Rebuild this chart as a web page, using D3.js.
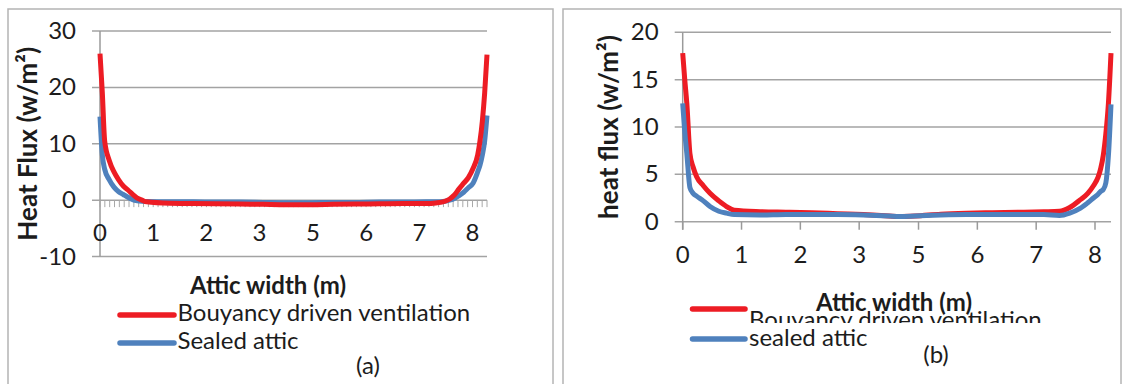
<!DOCTYPE html>
<html>
<head>
<meta charset="utf-8">
<script src="https://cdn.jsdelivr.net/npm/d3@7"></script>
<style>
  body { margin: 0; background: #fff; }
  svg text { font-family: Lato, "Open Sans", sans-serif; fill: #1c1c1c; }
</style>
</head>
<body>
<script>
// attic width (m) at sampled points, panel (a)
let xA = [0, 0.05, 0.1, 0.2, 0.3, 0.4, 0.5, 0.6, 0.7, 0.8, 0.9, 1.0, 1.5, 2, 2.5, 3, 3.5, 4, 4.5, 5, 5.5, 6, 6.5, 7, 7.2, 7.4, 7.5, 7.6, 7.7, 7.8, 7.9, 8.0, 8.1, 8.15, 8.2, 8.25, 8.3];
let ventA = [26, 19, 10.5, 7, 5, 3.6, 2.5, 1.8, 1.0, 0.35, 0.0, -0.3, -0.55, -0.6, -0.65, -0.7, -0.75, -0.8, -0.8, -0.75, -0.7, -0.65, -0.6, -0.6, -0.5, -0.2, 0.2, 0.9, 2.0, 3.0, 4.0, 5.6, 8.0, 10.5, 14, 19, 25.8];
let sealedA = [14.8, 8, 5.5, 3.6, 2.3, 1.5, 1.0, 0.5, 0.1, -0.1, -0.2, -0.25, -0.3, -0.3, -0.35, -0.35, -0.4, -0.45, -0.45, -0.4, -0.4, -0.35, -0.35, -0.3, -0.3, -0.2, 0.0, 0.3, 0.8, 1.4, 2.2, 3.0, 5.0, 6.2, 8.0, 10.5, 15];

// panel (b)
let xB = [0, 0.04, 0.08, 0.14, 0.2, 0.27, 0.4, 0.53, 0.7, 0.85, 1.0, 1.5, 2, 2.5, 3, 3.5, 4, 4.2, 4.5, 5, 5.5, 6, 6.5, 7, 7.3, 7.5, 7.7, 7.85, 7.96, 8.05, 8.1, 8.15, 8.2, 8.25, 8.3];
let ventB = [17.8, 15, 12.5, 7.2, 5.8, 4.75, 3.8, 3.0, 2.2, 1.6, 1.2, 1.05, 1.0, 0.95, 0.85, 0.75, 0.6, 0.55, 0.6, 0.8, 0.9, 0.95, 1.0, 1.05, 1.1, 1.5, 2.3, 3.0, 3.8, 4.7, 5.6, 7.0, 9.3, 12.5, 17.8];
let sealedB = [12.5, 9.5, 7.2, 3.6, 3.0, 2.7, 2.2, 1.6, 1.1, 0.9, 0.75, 0.7, 0.75, 0.75, 0.75, 0.7, 0.6, 0.55, 0.6, 0.7, 0.75, 0.75, 0.75, 0.75, 0.65, 0.9, 1.4, 2.0, 2.5, 2.9, 3.2, 3.4, 4.1, 7.0, 12.4];

// category values that carry a label (every 11th of 81 points), shown rounded
let xTickValues = [0, 1.14, 2.28, 3.42, 4.57, 5.71, 6.85, 7.99];
let yTicksA = [-10, 0, 10, 20, 30];
let yTicksB = [0, 5, 10, 15, 20];

let w = 1131, h = 384;
let red = "#ed1c24", blue = "#4f81bd", grid = "#a3a3a3";

let svg = d3.select("body").append("svg")
  .attr("width", w)
  .attr("height", h);

// panel frames
svg.append("rect").attr("x", 8).attr("y", 9).attr("width", 545).attr("height", 400)
  .attr("fill", "none").attr("stroke", "#b4b4b4").attr("stroke-width", 1.5);
svg.append("rect").attr("x", 563).attr("y", 9).attr("width", 558).attr("height", 400)
  .attr("fill", "none").attr("stroke", "#b4b4b4").attr("stroke-width", 1.5);

function panel(o) {
  let x = d3.scaleLinear().domain([0, 8.3]).range(o.xr);
  let y = d3.scaleLinear().domain(d3.extent(o.yTicks)).range(o.yr);
  let g = svg.append("g");

  // gridlines
  g.selectAll(".grid").data(o.yTicks).enter().append("line")
    .attr("x1", o.xr[0] - 8).attr("x2", o.xr[1])
    .attr("y1", d => y(d)).attr("y2", d => y(d))
    .attr("stroke", grid).attr("stroke-width", 1.5);

  // y axis line
  g.append("line")
    .attr("x1", o.xr[0]).attr("x2", o.xr[0])
    .attr("y1", o.yr[1]).attr("y2", o.yr[0] + (o.majorTicks ? 8 : 0))
    .attr("stroke", "#9a9a9a").attr("stroke-width", 1.5);

  // x ticks on the zero line
  if (o.minorTicks) {
    let cats = d3.range(81).map(i => i * 8.3 / 80);
    g.selectAll(".mt").data(cats).enter().append("line")
      .attr("x1", d => x(d)).attr("x2", d => x(d))
      .attr("y1", y(0)).attr("y2", y(0) + 7)
      .attr("stroke", "#a8a8a8").attr("stroke-width", 1);
  }
  if (o.majorTicks) {
    g.selectAll(".mj").data(xTickValues).enter().append("line")
      .attr("x1", d => x(d)).attr("x2", d => x(d))
      .attr("y1", y(0)).attr("y2", y(0) + 8)
      .attr("stroke", "#9a9a9a").attr("stroke-width", 1.5);
  }

  // y tick labels
  g.selectAll(".yl").data(o.yTicks).enter().append("text")
    .attr("x", o.xr[0] - 24).attr("y", d => y(d) + 2)
    .attr("text-anchor", "end").attr("dominant-baseline", "middle")
    .style("font-size", "24px")
    .text(d => d);

  // lines
  let line = d3.line().x(d => x(d[0])).y(d => y(d[1])).curve(d3.curveMonotoneX);
  o.series.forEach(s => {
    g.append("path")
      .datum(o.xs.map((v, i) => [v, s.values[i]]))
      .attr("d", line)
      .attr("fill", "none")
      .attr("stroke", s.color)
      .attr("stroke-width", 5)
      .attr("stroke-linejoin", "round");
  });

  // x tick labels
  let fmt = d3.format(".0f");
  g.selectAll(".xl").data(xTickValues).enter().append("text")
    .attr("x", d => x(d)).attr("y", o.xLabelY)
    .attr("text-anchor", "middle").attr("dominant-baseline", "middle")
    .style("font-size", "24px")
    .text(d => fmt(d));

  // y title
  g.append("text")
    .attr("transform", `translate(${o.yTitleX},${(o.yr[0] + o.yr[1]) / 2}) rotate(-90)`)
    .attr("text-anchor", "middle").attr("dominant-baseline", "middle")
    .style("font-size", "26px").style("font-weight", "bold")
    .text(o.yTitle);
  return g;
}

panel({
  xr: [100, 487], yr: [256.5, 31], yTicks: yTicksA, xs: xA,
  series: [{ values: sealedA, color: blue }, { values: ventA, color: red }],
  minorTicks: true, majorTicks: false, xLabelY: 235,
  yTitleX: 30, yTitle: "Heat Flux (w/m\u00b2)"
});

panel({
  xr: [682.7, 1111], yr: [221.7, 32.3], yTicks: yTicksB, xs: xB,
  series: [{ values: ventB, color: red }, { values: sealedB, color: blue }],
  minorTicks: false, majorTicks: true, xLabelY: 257,
  yTitleX: 611, yTitle: "heat flux (w/m\u00b2)"
});

// panel (a) title and legend
svg.append("text").attr("x", 268).attr("y", 288)
  .attr("text-anchor", "middle").attr("dominant-baseline", "middle")
  .style("font-size", "24px").style("font-weight", "bold").text("Attic width (m)");

let legA = [{ name: "Bouyancy driven ventilation", color: red, y: 315 },
            { name: "Sealed attic", color: blue, y: 343 }];
legA.forEach(d => {
  svg.append("line").attr("x1", 120).attr("x2", 174).attr("y1", d.y).attr("y2", d.y)
    .attr("stroke", d.color).attr("stroke-width", 5.5).attr("stroke-linecap", "round");
  svg.append("text").attr("x", 177.5).attr("y", d.y)
    .attr("dominant-baseline", "middle").style("font-size", "24px").text(d.name);
});
svg.append("text").attr("x", 368).attr("y", 368)
  .attr("text-anchor", "middle").attr("dominant-baseline", "middle")
  .style("font-size", "24px").text("(a)");

// panel (b) legend, clipped like in the source figure
svg.append("clipPath").attr("id", "legclip")
  .append("rect").attr("x", 600).attr("y", 290).attr("width", 500).attr("height", 33);

let legB = [{ name: "Bouyancy driven ventilation", color: red, y: 309, ty: 322, clip: true },
            { name: "sealed attic", color: blue, y: 339, ty: 340, clip: false }];
legB.forEach(d => {
  svg.append("line").attr("x1", 692.5).attr("x2", 745).attr("y1", d.y).attr("y2", d.y)
    .attr("stroke", d.color).attr("stroke-width", 5.5).attr("stroke-linecap", "round");
  let t = svg.append("text").attr("x", 749).attr("y", d.ty)
    .attr("dominant-baseline", "middle").style("font-size", "24px").text(d.name);
  if (d.clip) t.attr("clip-path", "url(#legclip)");
});

svg.append("text").attr("x", 894).attr("y", 305)
  .attr("text-anchor", "middle").attr("dominant-baseline", "middle")
  .style("font-size", "24px").style("font-weight", "bold").text("Attic width (m)");

svg.append("text").attr("x", 936).attr("y", 357)
  .attr("text-anchor", "middle").attr("dominant-baseline", "middle")
  .style("font-size", "24px").text("(b)");
</script>
</body>
</html>
